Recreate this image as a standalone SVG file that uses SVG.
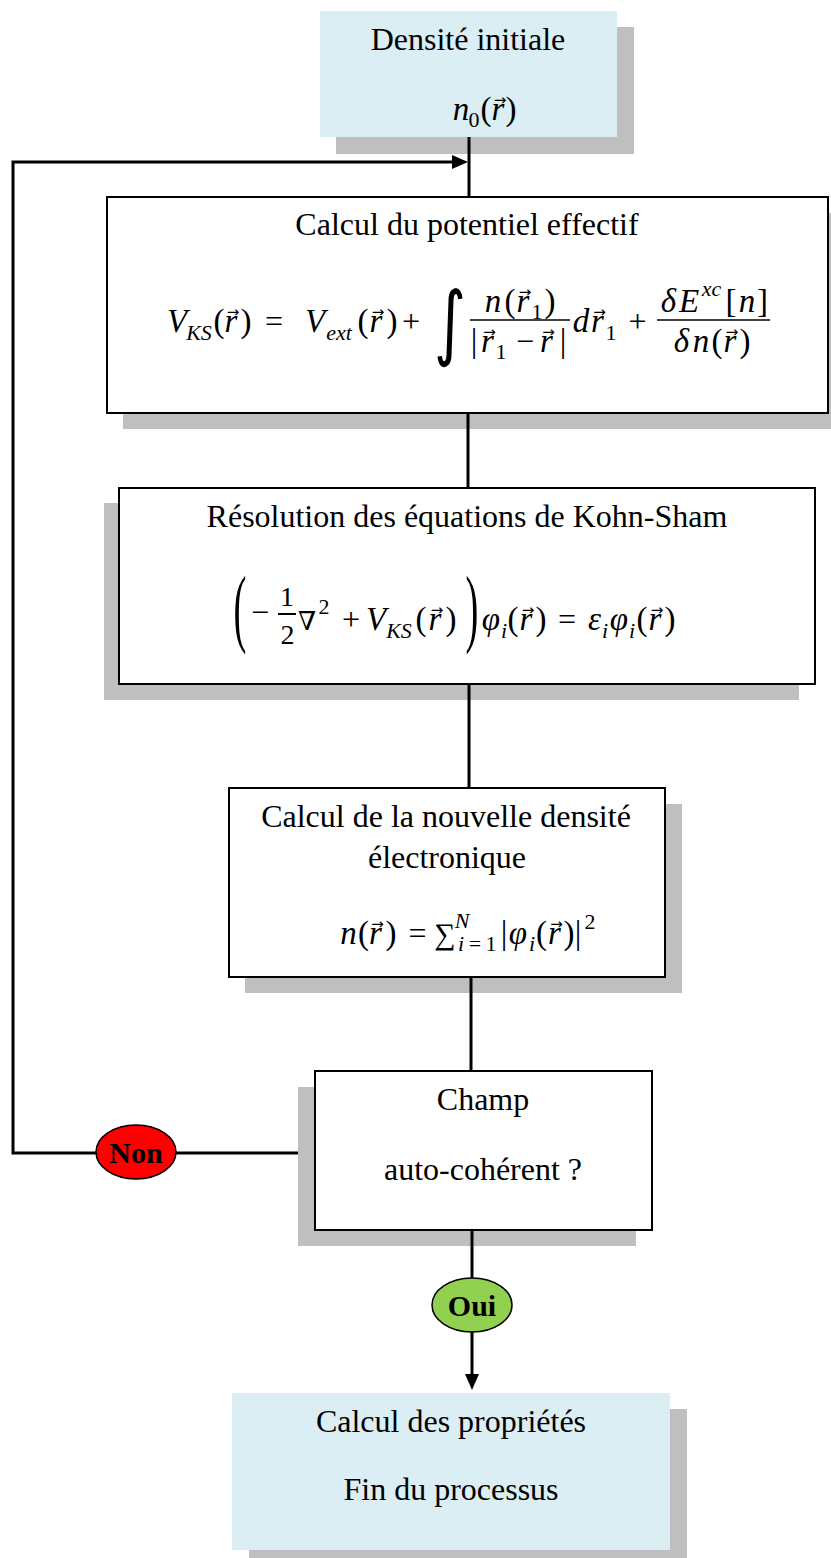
<svg xmlns="http://www.w3.org/2000/svg" xmlns:xlink="http://www.w3.org/1999/xlink" width="831" height="1558" viewBox="0 0 831 1558">
<style>
.t{font-family:"Liberation Serif","Times New Roman",serif;font-size:32px;fill:#000;text-anchor:middle}
.b{font-family:"Liberation Serif","Times New Roman",serif;font-size:30px;font-weight:bold;fill:#000;text-anchor:middle}
.m{font-family:"Liberation Serif","DejaVu Serif",serif;font-style:italic;font-size:33px;fill:#000;text-anchor:middle}
.mu{font-family:"Liberation Serif","DejaVu Serif",serif;font-size:33px;fill:#000;text-anchor:middle}
.ms{font-family:"Liberation Serif","DejaVu Serif",serif;font-style:italic;font-size:22px;fill:#000;text-anchor:middle}
.ds{font-family:"Liberation Serif","DejaVu Serif",serif;font-size:22px;fill:#000;text-anchor:middle}
.op{font-family:"Liberation Serif","Times New Roman",serif;font-size:32px;fill:#000;text-anchor:middle}
.vec{font-family:"DejaVu Sans",sans-serif;font-size:15px;fill:#000;text-anchor:middle}
.box{fill:#fff;stroke:#000;stroke-width:2}
.shadow{fill:#BFBFBF}
.blue{fill:#DAEEF3}
.conn{stroke:#000;stroke-width:3;fill:none}
.bar{stroke:#000;stroke-width:1.6}
</style>
<defs>
<text id="v" class="vec" x="0" y="0">→</text>
<marker id="ah" viewBox="0 0 16 14" refX="8" refY="7" markerWidth="16" markerHeight="14" markerUnits="userSpaceOnUse" orient="auto">
<path d="M0,0 L16,7 L0,14 z" fill="#000"/>
</marker>
</defs>

<g id="node-densite-initiale">
<rect class="shadow" x="336" y="27" width="298" height="127"/>
<rect class="blue" x="320" y="11" width="297" height="126"/>
<text class="t" x="468" y="50">Densité initiale</text>
<text class="m" x="461" y="120">n</text>
<text class="ds" x="474" y="127">0</text>
<text class="mu" x="486" y="120">(</text>
<text class="m" x="498" y="120">r</text>
<use href="#v" x="500" y="105"/>
<text class="mu" x="511" y="120">)</text>
</g>

<g id="node-potentiel-effectif">
<rect class="shadow" x="123" y="213" width="721" height="216"/>
<rect class="box" x="107" y="197" width="721" height="216"/>
<text class="t" x="467" y="235">Calcul du potentiel effectif</text>
<text class="m" x="177" y="332">V</text>
<text class="ms" x="199" y="340">KS</text>
<text class="mu" x="219" y="332">(</text>
<text class="m" x="231" y="332">r</text>
<use href="#v" x="233" y="317"/>
<text class="mu" x="246" y="332">)</text>
<text class="op" x="274" y="332">=</text>
<text class="m" x="315" y="332">V</text>
<text class="ms" x="339" y="340">ext</text>
<text class="mu" x="363" y="332">(</text>
<text class="m" x="376" y="332">r</text>
<use href="#v" x="378" y="317"/>
<text class="mu" x="392" y="332">)</text>
<text class="op" x="411" y="332">+</text>
<text class="mu" transform="translate(450,350) scale(0.75,1)" x="0" y="0" style="font-family:'DejaVu Sans',sans-serif;font-size:82px">∫</text>
<line class="bar" x1="470" y1="320" x2="570" y2="320"/>
<text class="m" x="493" y="312">n</text>
<text class="mu" x="510" y="312">(</text>
<text class="m" x="523" y="312">r</text>
<use href="#v" x="525" y="297"/>
<text class="ds" x="537" y="319">1</text>
<text class="mu" x="550" y="312">)</text>
<text class="mu" x="474" y="352">|</text>
<text class="m" x="487.5" y="352">r</text>
<use href="#v" x="489.5" y="337"/>
<text class="ds" x="501" y="359">1</text>
<text class="op" x="525" y="352">−</text>
<text class="m" x="546.5" y="352">r</text>
<use href="#v" x="548.5" y="337"/>
<text class="mu" x="563" y="352">|</text>
<text class="m" x="581" y="332">d</text>
<text class="m" x="597.5" y="332">r</text>
<use href="#v" x="599.5" y="317"/>
<text class="ds" x="611" y="340">1</text>
<text class="op" x="637.5" y="332">+</text>
<line class="bar" x1="657" y1="320" x2="770" y2="320"/>
<text class="m" x="668.5" y="312">δ</text>
<text class="m" x="689" y="312">E</text>
<text class="ms" x="711.5" y="296">xc</text>
<text class="mu" x="731" y="312">[</text>
<text class="m" x="747" y="312">n</text>
<text class="mu" x="762.5" y="312">]</text>
<text class="m" x="681.5" y="352">δ</text>
<text class="m" x="701" y="352">n</text>
<text class="mu" x="717" y="352">(</text>
<text class="m" x="730" y="352">r</text>
<use href="#v" x="732" y="337"/>
<text class="mu" x="745" y="352">)</text>
</g>

<g id="node-kohn-sham">
<rect class="shadow" x="104" y="503" width="695" height="197"/>
<rect class="box" x="119" y="488" width="696" height="196"/>
<text class="t" x="467" y="527">Résolution des équations de Kohn-Sham</text>
<text class="op" transform="translate(240,636) scale(0.45,1)" x="0" y="0" style="font-size:86px">(</text>
<text class="op" x="260" y="623">−</text>
<line x1="278" y1="614" x2="296" y2="614" stroke="#000" stroke-width="2"/>
<text class="ds" x="287" y="606" style="font-size:28px">1</text>
<text class="ds" x="287.5" y="644" style="font-size:28px">2</text>
<text class="mu" x="307" y="630" style="font-family:'DejaVu Serif','DejaVu Sans',serif;font-size:26px">∇</text>
<text class="ds" x="324" y="614">2</text>
<text class="op" x="351" y="630">+</text>
<text class="m" x="376" y="630">V</text>
<text class="ms" x="399" y="638">KS</text>
<text class="mu" x="421" y="630">(</text>
<text class="m" x="435" y="630">r</text>
<use href="#v" x="437" y="615"/>
<text class="mu" x="451" y="630">)</text>
<text class="op" transform="translate(472,636) scale(0.45,1)" x="0" y="0" style="font-size:86px">)</text>
<text class="m" x="491" y="630">φ</text>
<text class="ms" x="504" y="638">i</text>
<text class="mu" x="513" y="630">(</text>
<text class="m" x="526" y="630">r</text>
<use href="#v" x="528" y="615"/>
<text class="mu" x="541" y="630">)</text>
<text class="op" x="567" y="630">=</text>
<text class="m" x="594.5" y="630">ε</text>
<text class="ms" x="605" y="638">i</text>
<text class="m" x="619" y="630">φ</text>
<text class="ms" x="632" y="638">i</text>
<text class="mu" x="642" y="630">(</text>
<text class="m" x="655" y="630">r</text>
<use href="#v" x="657" y="615"/>
<text class="mu" x="670" y="630">)</text>
</g>

<g id="node-nouvelle-densite">
<rect class="shadow" x="245" y="804" width="437" height="189"/>
<rect class="box" x="229" y="788" width="436" height="189"/>
<text class="t" x="446" y="827">Calcul de la nouvelle densité</text>
<text class="t" x="447" y="868">électronique</text>
<text class="m" x="348.5" y="944">n</text>
<text class="mu" x="363.5" y="944">(</text>
<text class="m" x="375.5" y="944">r</text>
<use href="#v" x="377.5" y="929"/>
<text class="mu" x="391" y="944">)</text>
<text class="op" x="417.5" y="944">=</text>
<text class="mu" x="445" y="944" style="font-size:30px">∑</text>
<text class="ms" x="462" y="928">N</text>
<text class="ms" x="461" y="951">i</text>
<text class="op" x="475" y="951" style="font-size:22px">=</text>
<text class="ds" x="491" y="951">1</text>
<text class="mu" x="504" y="944">|</text>
<text class="m" x="518" y="944">φ</text>
<text class="ms" x="532" y="951">i</text>
<text class="mu" x="541.5" y="944">(</text>
<text class="m" x="554.5" y="944">r</text>
<use href="#v" x="556.5" y="929"/>
<text class="mu" x="569" y="944">)</text>
<text class="mu" x="578" y="944">|</text>
<text class="ds" x="590" y="929">2</text>
</g>

<g id="node-champ">
<rect class="shadow" x="298" y="1087" width="338" height="159"/>
<rect class="box" x="315" y="1071" width="337" height="159"/>
<text class="t" x="483" y="1110">Champ</text>
<text class="t" x="483" y="1180">auto-cohérent ?</text>
</g>

<g id="node-proprietes">
<rect class="shadow" x="249" y="1409" width="438" height="157"/>
<rect class="blue" x="232" y="1393" width="438" height="157"/>
<text class="t" x="451" y="1432">Calcul des propriétés</text>
<text class="t" x="451" y="1500">Fin du processus</text>
</g>

<g id="connectors">
<line class="conn" x1="469" y1="137" x2="469" y2="197"/>
<line class="conn" x1="468" y1="413" x2="468" y2="488"/>
<line class="conn" x1="469" y1="684" x2="469" y2="788"/>
<line class="conn" x1="471" y1="977" x2="471" y2="1071"/>
<line class="conn" x1="472" y1="1230" x2="472" y2="1382" marker-end="url(#ah)"/>
<polyline class="conn" points="298,1153 13,1153 13,162 460,162" marker-end="url(#ah)"/>
</g>

<g id="label-non">
<ellipse cx="136" cy="1152" rx="40" ry="27" fill="#FF0000" stroke="#000" stroke-width="1.5"/>
<text class="b" x="136" y="1163">Non</text>
</g>
<g id="label-oui">
<ellipse cx="472" cy="1305" rx="40" ry="27" fill="#92D050" stroke="#000" stroke-width="1.5"/>
<text class="b" x="472" y="1316">Oui</text>
</g>
</svg>
